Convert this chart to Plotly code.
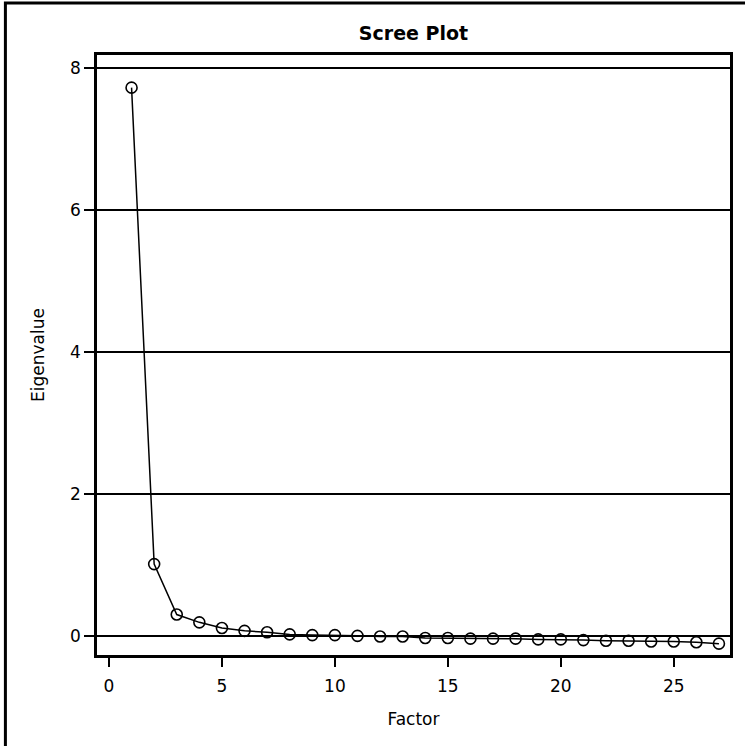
import plotly.graph_objects as go

# Scree plot: eigenvalue of each extracted factor
factors = list(range(1, 28))
eigenvalues = [7.72, 1.01, 0.30, 0.19, 0.11, 0.07, 0.05, 0.02, 0.01, 0.01,
               0.00, -0.01, -0.01, -0.03, -0.03, -0.04, -0.04, -0.04, -0.05,
               -0.05, -0.06, -0.07, -0.07, -0.08, -0.08, -0.09, -0.11]
x_ticks = [0, 5, 10, 15, 20, 25]
y_ticks = [0, 2, 4, 6, 8]

FONT = "DejaVu Sans"

fig = go.Figure()
fig.add_trace(go.Scatter(
    x=factors, y=eigenvalues, mode="lines+markers",
    line=dict(color="black", width=1.5),
    marker=dict(symbol="circle-open", size=11, color="black",
                line=dict(width=1.6, color="black")),
    showlegend=False,
))

fig.update_layout(
    width=745, height=746,
    margin=dict(l=97, r=12, t=55, b=91),
    paper_bgcolor="white", plot_bgcolor="white",
    font=dict(family=FONT, size=16, color="black"),
    title=dict(text="<b>Scree Plot</b>", x=0.5, xref="paper",
               y=0.955, yanchor="middle",
               font=dict(family=FONT, size=19, color="black")),
    xaxis=dict(
        range=[-0.53, 27.49], tickvals=x_ticks, ticks="outside",
        ticklen=9, tickwidth=2, tickcolor="black", ticklabelstandoff=5,
        showgrid=False, zeroline=False,
        showline=True, linewidth=2.5, linecolor="black", mirror=True,
        title=dict(text="Factor", standoff=18, font=dict(size=17)),
        tickfont=dict(size=17),
    ),
    yaxis=dict(
        range=[-0.27, 8.18], tickvals=y_ticks, ticks="outside",
        ticklen=10, tickwidth=2, tickcolor="black",
        showgrid=True, gridcolor="black", gridwidth=1.6,
        zeroline=True, zerolinecolor="black", zerolinewidth=1.6,
        showline=True, linewidth=2.5, linecolor="black", mirror=True,
        title=dict(text="Eigenvalue", standoff=22, font=dict(size=17)),
        tickfont=dict(size=17),
    ),
    # page frame: only the left and top edges fall inside the canvas
    shapes=[dict(type="path", xref="paper", yref="paper",
                 path="M -0.1447,-0.2 L -0.1447,1.0867 L 1.1,1.0867",
                 line=dict(color="black", width=3), layer="below")],
)

fig.write_html("out.html")
